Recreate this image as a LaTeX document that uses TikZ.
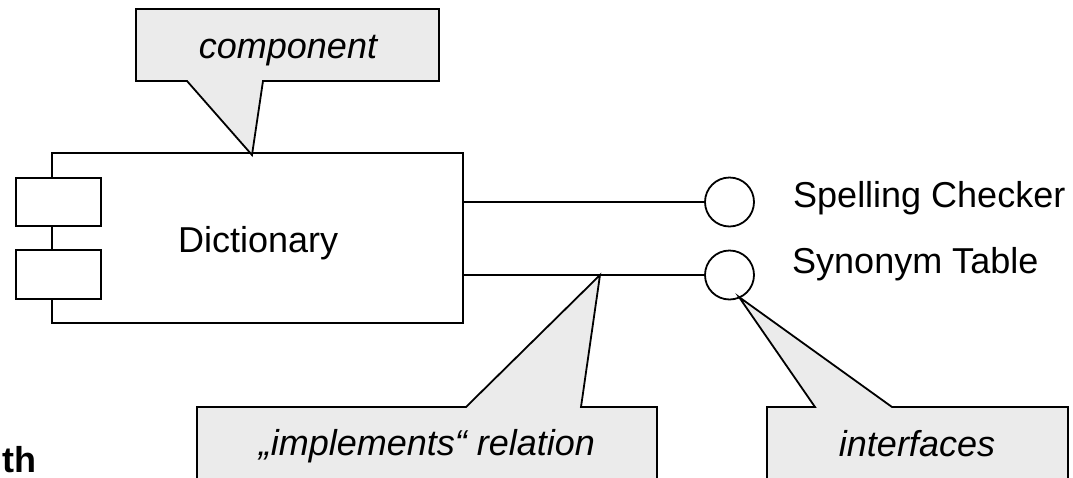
\documentclass[tikz,border=0pt]{standalone}
\usepackage{fontspec}
\setmainfont{Liberation Sans}
\begin{document}
\begin{tikzpicture}[x=1pt,y=-1pt,
  outline/.style={draw=black,line width=1.8pt},
  compbox/.style={outline,rectangle,fill=white,inner sep=0pt},
  iface/.style={outline,circle,fill=white,inner sep=0pt,minimum size=49pt},
  callout/.style={outline,fill=calloutgray,line join=miter},
  txt/.style={inner sep=0pt,font=\fontsize{36}{40}\selectfont},
  notetxt/.style={txt,font=\fontsize{36}{40}\selectfont\itshape}]
\definecolor{calloutgray}{HTML}{EBEBEB}
\useasboundingbox (0,0) rectangle (1073,477);
\clip (0,0) rectangle (1073,477);

% component with its two tabs
\node[compbox,minimum width=411pt,minimum height=170pt] (dict) at (257.5,238) {};
\node[compbox,minimum width=85pt,minimum height=48pt] (tabA) at (58.5,202) {};
\node[compbox,minimum width=85pt,minimum height=49pt] (tabB) at (58.5,274.5) {};
\node[txt,anchor=base west] (dictlabel) at (178,252) {Dictionary};

% provided interfaces
\node[iface] (spell) at (729.5,202) {};
\node[iface] (syn) at (729.5,275) {};
\draw[outline] (dict.east |- spell.west) -- (spell.west);
\draw[outline] (dict.east |- syn.west) -- (syn.west);
\node[txt,anchor=base west] (spelllabel) at (793,207) {Spelling Checker};
\node[txt,anchor=base west] (synlabel) at (792,273) {Synonym Table};

% note: component
\coordinate (tipA) at (252,155);
\draw[callout] (136,9) -- (439,9) -- (439,81) -- (263,81) -- (tipA) -- (187,81) -- (136,81) -- cycle;
\node[notetxt,anchor=base] (compnote) at (288,58) {component};

% note: implements relation
\coordinate (tipB) at (600,275);
\draw[callout] (197,407) -- (466,407) -- (tipB) -- (581,407) -- (657,407) -- (657,495) -- (197,495) -- cycle;
\node[notetxt,anchor=base] (implnote) at (427,455) {„implements“ relation};

% note: interfaces
\coordinate (tipC) at (739,297);
\draw[callout] (767,407) -- (815,407) -- (tipC) -- (892,407) -- (1068,407) -- (1068,495) -- (767,495) -- cycle;
\node[notetxt,anchor=base] (ifacenote) at (917,456) {interfaces};

% trailing text at the lower left
\node[txt,anchor=base west,font=\fontsize{36}{40}\selectfont\bfseries] (tail) at (2,472) {th};
\end{tikzpicture}
\end{document}
